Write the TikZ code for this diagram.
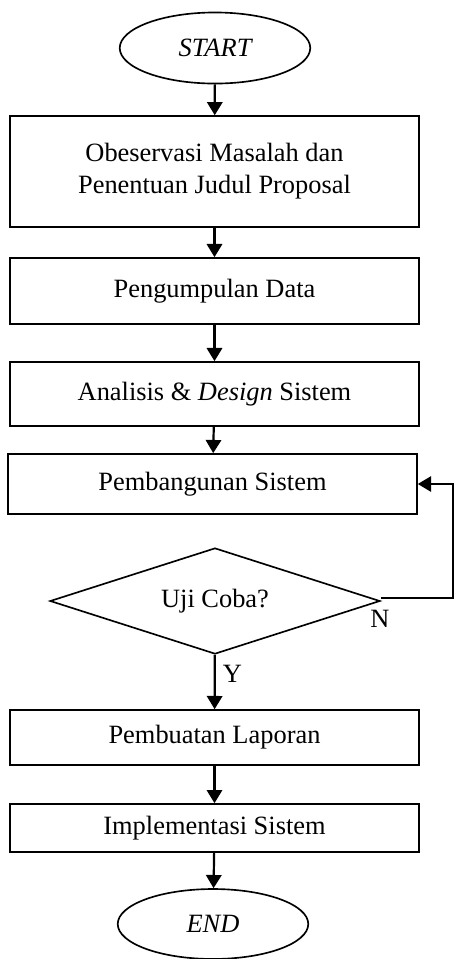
\documentclass[tikz,border=0pt]{standalone}
\usepackage{fontspec}
\setmainfont{Liberation Serif}
\usepackage{tikz}
\usetikzlibrary{shapes}
\usetikzlibrary{arrows.meta}

\begin{document}
\begin{tikzpicture}[x=0.4545pt, y=-0.4545pt,
    every node/.style={font=\fontsize{12}{14.5}\selectfont, align=center, line width=0.75pt},
    proc/.style={rectangle, draw, minimum width=185.9pt, minimum height=#1, inner sep=0pt},
    term/.style={ellipse, draw, minimum width=86.6pt, minimum height=#1, inner sep=0pt, font=\fontsize{12}{14.5}\selectfont\itshape},
    test/.style={diamond, draw, aspect=3, minimum width=150pt, minimum height=48.2pt, inner sep=0pt},
    flow/.style={-{Triangle[width=7pt,length=6pt]}, line width=1pt}]
    \useasboundingbox (0,0) rectangle (454,959);
    \node[term=32.3pt] (start) at (215,48) {START};
    \node[proc=50.4pt] (observe) at (214.5,171.5) {Obeservasi Masalah dan\\Penentuan Judul Proposal};
    \node[proc=30pt] (collect) at (214.5,291) {Pengumpulan Data};
    \node[proc=29.1pt] (design) at (214.5,394) {Analisis \& \textit{Design} Sistem};
    \node[proc=27.3pt] (build) at (212.5,484) {Pembangunan Sistem};
    \node[test] (trial) at (215,601) {Uji Coba?};
    \node[proc=25pt] (report) at (214.5,737.5) {Pembuatan Laporan};
    \node[proc=21.8pt] (deploy) at (214.5,828) {Implementasi Sistem};
    \node[term=31.8pt] (end) at (213,924) {END};
    \coordinate (loop) at (453,598);

    \draw[flow] (start) -- (observe);
    \draw[flow] (observe) -- (collect);
    \draw[flow] (collect) -- (design);
    \draw[flow] (design) -- (build);
    \draw[flow] (trial) -- node[right, pos=0.35] {Y} (report);
    \draw[flow] (report) -- (deploy);
    \draw[flow] (deploy) -- (end);
    \draw[-{Triangle[width=7pt,length=6pt]}, line width=0.6pt] (trial.east |- loop) -- (loop) |- (build.east);
    \node at (380,619) {N};
\end{tikzpicture}
\end{document}
